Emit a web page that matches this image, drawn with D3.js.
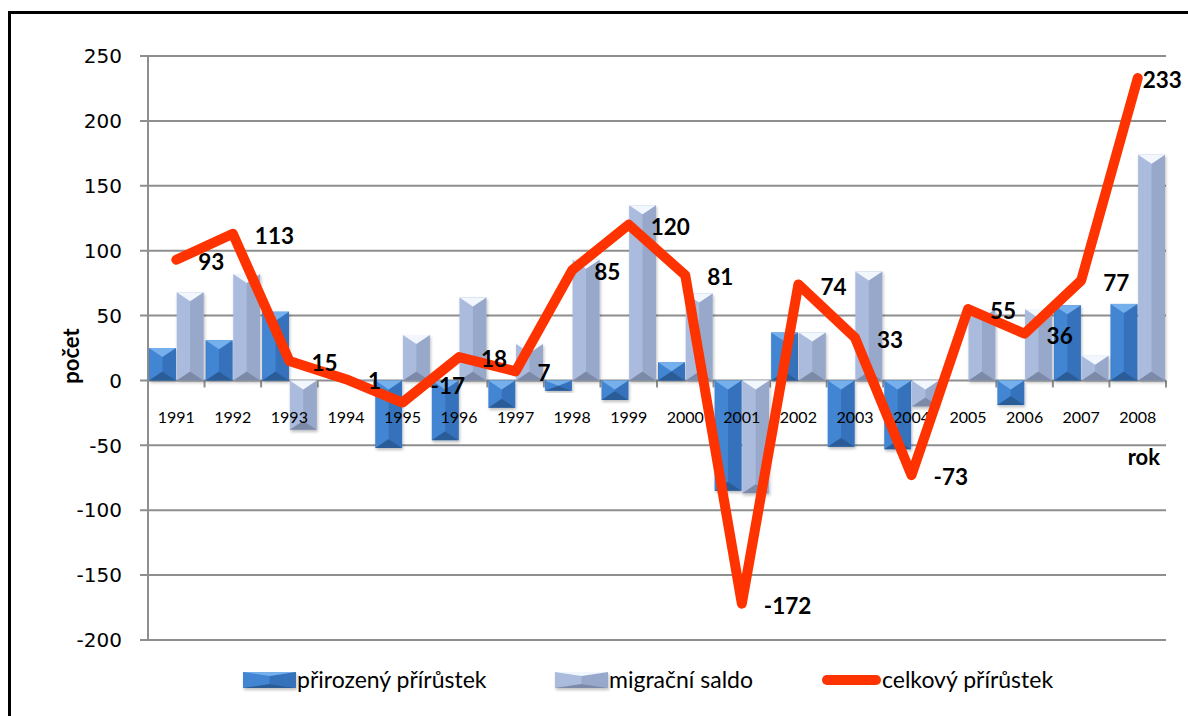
<!DOCTYPE html>
<html>
<head>
<meta charset="utf-8">
<script src="https://cdn.jsdelivr.net/npm/d3@7"></script>
<style>
    body { margin: 0; background: #fff; }
    svg { display: block; }
</style>
</head>
<body>
<div id="chart"></div>
<script>
(function() {
    // Data
    var years = ["1991", "1992", "1993", "1994", "1995", "1996", "1997", "1998", "1999",
                 "2000", "2001", "2002", "2003", "2004", "2005", "2006", "2007", "2008"];
    var prirozeny = [25, 31, 53, 0, -52, -46, -21, -8, -15, 14, -85, 37, -51, -53, 0, -19, 58, 59];
    var migracni = [68, 82, -38, 1, 35, 64, 28, 93, 135, 67, -87, 37, 84, -20, 55, 55, 19, 174];
    var celkovy = [93, 113, 15, 1, -17, 18, 7, 85, 120, 81, -172, 74, 33, -73, 55, 36, 77, 233];
    var yTicks = [-200, -150, -100, -50, 0, 50, 100, 150, 200, 250];
    var legendNames = ["přirozený přírůstek", "migrační saldo", "celkový přírůstek"];

    // Constants
    var width = 1188, height = 716;
    var plot = { left: 148, right: 1166, top: 56, bottom: 640 };
    var calibri = "Lato, 'Open Sans', sans-serif";

    var svg = d3.select("#chart")
        .append("svg")
        .attr("width", width)
        .attr("height", height);

    var defs = svg.append("defs");
    var shadow = defs.append("filter").attr("id", "shadow")
        .attr("x", "-20%").attr("y", "-20%").attr("width", "140%").attr("height", "140%");
    shadow.append("feDropShadow")
        .attr("dx", 1).attr("dy", 2).attr("stdDeviation", 1.5)
        .attr("flood-color", "#000").attr("flood-opacity", 0.25);

    // Outer frame (runs off the right and bottom edges)
    svg.append("rect")
        .attr("x", 9.5).attr("y", 12.5)
        .attr("width", 1300).attr("height", 900)
        .attr("fill", "none")
        .attr("stroke", "#000")
        .attr("stroke-width", 3);

    // Scales
    var x0 = d3.scaleBand().domain(years).range([plot.left, plot.right]).padding(0);
    var x1 = d3.scaleBand().domain([0, 1]).range([1, x0.bandwidth() - 1]).paddingInner(0.03);
    var y = d3.scaleLinear().domain([-200, 250]).range([plot.bottom, plot.top]);

    // Gridlines + y ticks
    svg.append("g")
        .selectAll("line")
        .data(yTicks)
        .enter().append("line")
        .attr("x1", plot.left - 8)
        .attr("x2", plot.right)
        .attr("y1", function(d) { return y(d); })
        .attr("y2", function(d) { return y(d); })
        .attr("stroke", "#8e8e8e")
        .attr("stroke-width", 2);

    svg.append("line")
        .attr("x1", plot.left).attr("x2", plot.left)
        .attr("y1", y(250)).attr("y2", y(-200))
        .attr("stroke", "#8e8e8e")
        .attr("stroke-width", 2);

    svg.append("g")
        .selectAll("text")
        .data(yTicks)
        .enter().append("text")
        .attr("x", 122)
        .attr("y", function(d) { return y(d); })
        .attr("dy", "0.36em")
        .attr("text-anchor", "end")
        .attr("font-family", "'DejaVu Sans', Verdana, sans-serif")
        .attr("font-size", 20)
        .attr("fill", "#000")
        .text(function(d) { return d; });

    // Category ticks on the zero line
    var bounds = years.map(function(d) { return x0(d); }).concat([plot.right]);
    svg.append("g")
        .selectAll("line")
        .data(bounds)
        .enter().append("line")
        .attr("x1", function(d) { return d; })
        .attr("x2", function(d) { return d; })
        .attr("y1", y(0))
        .attr("y2", y(0) + 7)
        .attr("stroke", "#8e8e8e")
        .attr("stroke-width", 2);

    // Bevelled bar, drawn as four facets
    var palettes = [
        { top: "#74afec", left: "#4385d2", right: "#3572bb", bottom: "#2b5c98" },
        { top: "#f2f6fd", left: "#aabbde", right: "#98a8ca", bottom: "#7d8aa7" }
    ];

    function bevelBar(g, bx, by, bw, bh, pal, depth) {
        var d = Math.min(depth, bh / 2), hw = bw / 2;
        var gg = g.append("g").attr("filter", "url(#shadow)");
        gg.append("rect").attr("x", bx).attr("y", by).attr("width", bw).attr("height", bh)
            .attr("fill", pal.left);
        gg.append("polygon")
            .attr("points", [[bx + hw, by + d], [bx + bw, by], [bx + bw, by + bh], [bx + hw, by + bh - d]].join(" "))
            .attr("fill", pal.right);
        gg.append("polygon")
            .attr("points", [[bx, by], [bx + bw, by], [bx + hw, by + d]].join(" "))
            .attr("fill", pal.top);
        gg.append("polygon")
            .attr("points", [[bx, by + bh], [bx + bw, by + bh], [bx + hw, by + bh - d]].join(" "))
            .attr("fill", pal.bottom);
    }

    var barsG = svg.append("g");
    [prirozeny, migracni].forEach(function(series, s) {
        series.forEach(function(v, i) {
            if (v === 0) return;
            var top = y(Math.max(v, 0)), bottom = y(Math.min(v, 0));
            bevelBar(barsG, x0(years[i]) + x1(s), top, x1.bandwidth(), bottom - top, palettes[s], 9);
        });
    });

    // Year labels
    svg.append("g")
        .selectAll("text")
        .data(years)
        .enter().append("text")
        .attr("x", function(d) { return x0(d) + x0.bandwidth() / 2; })
        .attr("y", 417)
        .attr("dy", "0.35em")
        .attr("text-anchor", "middle")
        .attr("font-family", calibri)
        .attr("font-size", 16)
        .text(function(d) { return d; });

    // Total line
    var line = d3.line()
        .x(function(d, i) { return x0(years[i]) + x0.bandwidth() / 2; })
        .y(function(d) { return y(d); });

    svg.append("path")
        .datum(celkovy)
        .attr("d", line)
        .attr("fill", "none")
        .attr("stroke", "#ff3300")
        .attr("stroke-width", 10)
        .attr("stroke-linejoin", "round")
        .attr("stroke-linecap", "round");

    // Data labels (a couple were moved by hand in the original)
    var nudge = { "1995": [6, -19], "2008": [-17, 0] };
    svg.append("g")
        .selectAll("text")
        .data(celkovy)
        .enter().append("text")
        .attr("x", function(d, i) {
            var n = nudge[years[i]] || [0, 0];
            return x0(years[i]) + x0.bandwidth() / 2 + 22 + n[0];
        })
        .attr("y", function(d, i) {
            var n = nudge[years[i]] || [0, 0];
            return y(d) + 2 + n[1];
        })
        .attr("dy", "0.36em")
        .attr("font-family", calibri)
        .attr("font-weight", "bold")
        .attr("font-size", 22.5)
        .text(function(d) { return d; });

    // Axis titles
    svg.append("text")
        .attr("transform", "translate(79,356) rotate(-90)")
        .attr("text-anchor", "middle")
        .attr("font-family", calibri)
        .attr("font-weight", "bold")
        .attr("font-size", 22)
        .text("počet");

    svg.append("text")
        .attr("x", 1160)
        .attr("y", 457)
        .attr("dy", "0.36em")
        .attr("text-anchor", "end")
        .attr("font-family", calibri)
        .attr("font-weight", "bold")
        .attr("font-size", 22)
        .text("rok");

    // Legend
    var legend = svg.append("g");
    var legendX = [243, 555, 822];
    var legendY = 680;
    [0, 1].forEach(function(s) {
        bevelBar(legend, legendX[s], legendY - 8, 53, 16, palettes[s], 4);
    });
    legend.append("line")
        .attr("x1", legendX[2] + 5).attr("x2", legendX[2] + 54)
        .attr("y1", legendY).attr("y2", legendY)
        .attr("stroke", "#ff3300")
        .attr("stroke-width", 10)
        .attr("stroke-linecap", "round");
    legend.selectAll("text")
        .data(legendNames)
        .enter().append("text")
        .attr("x", function(d, i) { return legendX[i] + (i === 2 ? 60 : 54); })
        .attr("y", legendY)
        .attr("dy", "0.35em")
        .attr("font-family", calibri)
        .attr("font-size", 23)
        .text(function(d) { return d; });
})();
</script>
</body>
</html>
